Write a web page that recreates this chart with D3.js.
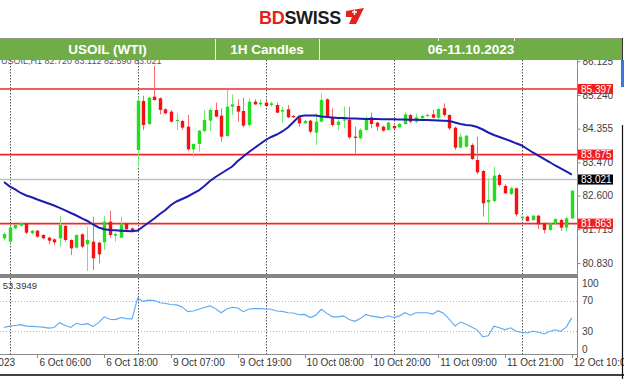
<!DOCTYPE html>
<html><head><meta charset="utf-8">
<script src="https://cdnjs.cloudflare.com/ajax/libs/d3/7.8.5/d3.min.js"></script>
<style>body{margin:0;background:#fff;}svg{display:block;font-family:"Liberation Sans",Arial,sans-serif;}</style>
</head><body><svg id="c" width="624" height="379"></svg>
<script>
// ---- DATA ----
const opens=[81.478,81.390,81.740,81.810,81.871,81.609,81.679,81.565,81.495,81.451,
81.478,81.801,81.434,81.233,81.583,81.320,81.390,81.364,81.373,81.915,
81.548,81.495,81.871,81.740,83.797,85.083,84.479,85.197,85.153,84.864,
84.803,84.558,84.558,84.409,83.814,83.954,84.295,84.567,84.847,84.698,
84.164,84.934,84.952,84.820,84.453,85.065,84.995,85.039,84.978,84.978,
84.803,84.864,84.689,84.654,84.497,84.567,84.252,84.540,85.127,84.654,
84.453,84.567,84.584,84.147,84.103,84.322,84.654,84.514,84.409,84.322,
84.427,84.392,84.479,84.715,84.540,84.628,84.689,84.733,84.645,84.890,
84.715,84.383,83.858,83.884,83.928,83.534,83.245,82.423,82.458,83.140,
82.852,82.642,82.790,82.003,82.047,81.959,82.073,81.872,81.697,81.872,
81.959,81.758,82.003];
const highs=[81.627,81.801,81.854,81.915,81.889,81.696,81.696,81.583,81.521,81.478,
82.064,81.828,81.451,81.583,81.609,81.775,82.046,81.390,82.064,82.204,
81.626,82.046,81.889,81.766,85.197,85.223,85.197,86.002,85.179,84.890,
84.847,84.759,84.584,84.715,83.972,84.322,84.847,84.890,85.039,84.890,
85.372,85.258,85.127,85.170,85.153,85.127,85.127,85.109,85.065,85.039,
84.934,84.978,84.715,84.689,84.584,84.584,84.759,85.284,85.153,84.890,
84.672,84.934,84.934,84.409,84.365,84.689,84.777,84.540,84.435,84.540,
84.453,84.497,84.777,84.742,84.759,84.733,84.759,84.847,84.890,85.022,
84.733,84.409,84.234,84.190,83.971,84.146,83.272,83.053,83.359,83.184,
82.895,82.834,82.808,82.073,82.073,82.090,82.090,81.889,81.898,82.003,
81.985,82.047,82.747];
const lows=[81.417,81.346,81.714,81.784,81.583,81.583,81.495,81.451,81.320,81.303,
81.259,81.390,81.040,81.215,81.215,80.620,80.647,80.822,81.171,81.495,
81.390,81.478,81.670,81.635,83.342,84.322,84.453,85.092,84.733,84.733,
84.523,84.322,84.322,83.779,83.622,83.753,84.260,84.295,84.654,84.016,
84.147,84.715,84.540,84.392,84.409,84.978,84.934,84.934,84.934,84.759,
84.514,84.628,84.637,84.409,84.479,84.234,83.928,84.514,84.628,84.409,
84.322,84.365,84.077,83.709,84.077,84.304,84.365,84.304,84.278,84.304,
84.348,84.383,84.453,84.497,84.497,84.602,84.672,84.628,84.602,84.672,
84.321,83.796,83.840,83.858,83.534,83.158,82.047,81.872,82.423,82.834,
82.642,82.615,82.047,81.985,81.915,81.933,81.723,81.609,81.670,81.845,
81.670,81.653,81.985];
const closes=[81.591,81.766,81.828,81.880,81.626,81.679,81.521,81.478,81.416,81.373,
81.828,81.434,81.215,81.565,81.259,81.434,80.953,81.058,81.915,81.565,
81.591,81.845,81.714,81.670,85.092,84.453,85.170,85.109,84.847,84.759,
84.540,84.584,84.383,83.814,83.954,84.304,84.584,84.847,84.672,84.147,
84.934,84.995,84.803,84.435,85.065,84.995,85.039,84.952,85.022,84.777,
84.847,84.654,84.663,84.497,84.558,84.278,84.540,85.109,84.654,84.453,
84.540,84.602,84.129,84.121,84.322,84.602,84.479,84.409,84.304,84.514,
84.365,84.479,84.733,84.540,84.654,84.689,84.715,84.645,84.873,84.715,
84.365,83.858,84.146,84.173,83.560,83.210,82.397,82.484,83.123,82.878,
82.659,82.790,82.108,82.047,81.933,82.073,81.845,81.697,81.872,81.985,
81.758,82.003,82.729];
const maValues=[82.957,82.841,82.760,82.668,82.602,82.555,82.497,82.445,82.392,82.340,
82.279,82.209,82.143,82.077,81.999,81.933,81.841,81.762,81.715,81.697,
81.689,81.678,81.670,81.663,81.684,81.789,81.894,81.999,82.117,82.222,
82.353,82.445,82.510,82.576,82.655,82.733,82.852,82.983,83.088,83.180,
83.271,83.363,83.508,83.626,83.744,83.849,83.954,84.059,84.138,84.203,
84.282,84.387,84.530,84.680,84.702,84.702,84.702,84.676,84.663,84.649,
84.636,84.636,84.623,84.623,84.618,84.610,84.610,84.610,84.605,84.602,
84.602,84.597,84.597,84.592,84.589,84.584,84.584,84.579,84.571,84.565,
84.558,84.518,84.479,84.453,84.439,84.400,84.334,84.256,84.190,84.138,
84.085,84.033,83.972,83.915,83.823,83.731,83.647,83.565,83.481,83.390,
83.311,83.232,83.153];
const rsiValues=[34.9,36.7,37.6,38.6,36.7,36.3,35.8,35.4,34.0,34.9,
41.2,37.6,34.9,40.4,38.6,39.9,36.3,41.2,48.9,45.7,
45.3,48.0,46.6,46.2,73.6,69.2,70.9,70.5,67.4,66.5,
65.1,64.6,62.0,55.7,56.6,58.8,61.1,63.3,59.7,54.3,
59.3,61.5,60.6,55.7,59.3,59.7,59.7,59.3,58.8,56.6,
56.1,54.3,53.9,51.6,52.1,48.0,51.1,58.8,53.4,48.9,
48.9,50.2,45.3,43.0,46.6,52.1,49.8,48.9,47.5,50.2,
48.0,49.8,54.3,51.1,54.3,54.3,54.3,52.5,57.0,53.4,
45.7,36.7,42.1,39.0,35.4,31.8,22.8,24.1,36.7,34.5,
31.8,34.5,30.0,28.6,27.7,30.0,28.6,26.4,29.5,31.8,
30.0,35.4,47.5];
const levelLines=[85.397,83.675,81.863];
const currentPrice=83.021;
const priceTicks=[86.125,85.240,84.355,83.470,82.600,81.715,80.830];
const rsiTicks=[100,70,30,0];
const rsiLevels=[70,30];
const timeTickIdx=[6,18,30,42,54,66,78,90,102];
const timeTickText=["6 Oct 06:00","6 Oct 18:00","9 Oct 07:00","9 Oct 19:00","10 Oct 08:00","10 Oct 20:00","11 Oct 09:00","11 Oct 21:00","12 Oct 10:00"];
const separatorIdx=[1,24,47,70,93];
const headerCells=["USOIL (WTI)","1H Candles","06-11.10.2023"];
const ohlcText="USOIL,H1  82.720 83.112 82.590 83.021";
const rsiText="RSI(14) 53.3949";

// ---- LAYOUT ----
const svg=d3.select("#c");
const plotR=577.5, mainTop=60, mainBot=274, rsiTop=278, rsiBot=354;
const x=d3.scaleLinear().domain([0,102]).range([4,571.8]);
const y=d3.scaleLinear().domain([80.830,85.240]).range([263,95]);
const yr=d3.scaleLinear().domain([0,100]).range([rsiBot,rsiTop]);

const defs=svg.append("defs");
defs.append("clipPath").attr("id","cm").append("rect").attr("x",0).attr("y",mainTop).attr("width",plotR).attr("height",mainBot-mainTop);
defs.append("clipPath").attr("id","cr").append("rect").attr("x",0).attr("y",rsiTop).attr("width",plotR).attr("height",rsiBot-rsiTop);

// OHLC text (partly hidden under the header band)
svg.append("text").attr("x",1).attr("y",63.8).attr("font-size",9).attr("fill","#555").text(ohlcText);

// main panel
const gm=svg.append("g").attr("clip-path","url(#cm)");
gm.selectAll("line.sep").data(separatorIdx).join("line")
 .attr("x1",d=>Math.round(x(d))+0.5).attr("x2",d=>Math.round(x(d))+0.5)
 .attr("y1",mainTop).attr("y2",mainBot).attr("stroke","#555").attr("stroke-dasharray","1.5,1.5");
gm.append("line").attr("x1",0).attr("x2",plotR).attr("y1",y(currentPrice)).attr("y2",y(currentPrice))
 .attr("stroke","#c4c4c4").attr("stroke-width",1.5);
gm.selectAll("line.lvl").data(levelLines).join("line")
 .attr("x1",0).attr("x2",plotR).attr("y1",d=>y(d)).attr("y2",d=>y(d))
 .attr("stroke","#f02828").attr("stroke-width",1.7);
const idx=d3.range(opens.length);
const up=i=>closes[i]>=opens[i];
gm.selectAll("line.wick").data(idx).join("line")
 .attr("x1",i=>Math.round(x(i))+0.5).attr("x2",i=>Math.round(x(i))+0.5)
 .attr("y1",i=>y(highs[i])).attr("y2",i=>y(lows[i]))
 .attr("stroke",i=>up(i)?"#74e874":"#f56a6a").attr("stroke-width",1);
gm.selectAll("rect.body").data(idx).join("rect")
 .attr("x",i=>Math.round(x(i))-1.2).attr("width",3.4)
 .attr("y",i=>y(Math.max(opens[i],closes[i])))
 .attr("height",i=>Math.max(1.2,Math.abs(y(opens[i])-y(closes[i]))))
 .attr("fill",i=>up(i)?"#22dd22":"#f21414");
gm.append("path").datum(idx).attr("fill","none").attr("stroke","#1c1cb0").attr("stroke-width",2)
 .attr("d",d3.line().x(i=>x(i)).y(i=>y(maValues[i])));

svg.append("rect").attr("x",0).attr("y",mainBot).attr("width",plotR).attr("height",rsiTop-mainBot).attr("fill","#858585");

// RSI panel
const gr=svg.append("g").attr("clip-path","url(#cr)");
gr.selectAll("line.lv").data(rsiLevels).join("line")
 .attr("x1",0).attr("x2",plotR).attr("y1",d=>Math.round(yr(d))+0.5).attr("y2",d=>Math.round(yr(d))+0.5)
 .attr("stroke","#b8b8b8").attr("stroke-dasharray","1,2");
gr.selectAll("line.sep").data(separatorIdx).join("line")
 .attr("x1",d=>Math.round(x(d))+0.5).attr("x2",d=>Math.round(x(d))+0.5)
 .attr("y1",rsiTop).attr("y2",rsiBot).attr("stroke","#555").attr("stroke-dasharray","1.5,1.5");
gr.append("path").datum(idx).attr("fill","none").attr("stroke","#5aa9f5").attr("stroke-width",1.1)
 .attr("d",d3.line().x(i=>x(i)).y(i=>yr(rsiValues[i])));
svg.append("text").attr("x",37).attr("y",289).attr("text-anchor","end").attr("font-size",9.5).attr("fill","#333").text(rsiText);

svg.append("line").attr("x1",0).attr("x2",plotR).attr("y1",rsiBot+0.5).attr("y2",rsiBot+0.5).attr("stroke","#8a8a8a");
svg.append("line").attr("x1",plotR).attr("x2",plotR).attr("y1",mainTop).attr("y2",rsiBot+4).attr("stroke","#8a8a8a");

const pa=svg.append("g").attr("transform",`translate(${plotR},0)`)
 .call(d3.axisRight(y).tickValues(priceTicks).tickFormat(d3.format(".3f")).tickSize(3).tickPadding(2));
pa.select(".domain").remove();
pa.selectAll("line").attr("stroke","#8a8a8a");
pa.selectAll("text").attr("font-size",10).attr("fill","#404040").attr("font-family","Liberation Sans, Arial, sans-serif");

const lab=svg.append("g");
levelLines.forEach(v=>{
  lab.append("rect").attr("x",578).attr("y",y(v)-5).attr("width",35).attr("height",10).attr("fill","#f01e1e");
  lab.append("text").attr("x",581).attr("y",y(v)+3.6).attr("font-size",10).attr("fill","#fff").text(d3.format(".3f")(v));
});
lab.append("rect").attr("x",578).attr("y",y(currentPrice)-5).attr("width",35).attr("height",10).attr("fill","#000");
lab.append("text").attr("x",581).attr("y",y(currentPrice)+3.6).attr("font-size",10).attr("fill","#fff").text(d3.format(".3f")(currentPrice));

svg.selectAll("text.rl").data(rsiTicks).join("text")
 .attr("x",582).attr("y",d=>Math.max(rsiTop+5,Math.min(rsiBot-5,yr(d)))+3.5)
 .attr("font-size",10).attr("fill","#404040").text(d=>d);

const ta=svg.append("g");
ta.selectAll("line").data(timeTickIdx).join("line")
 .attr("x1",d=>Math.round(x(d))+0.5).attr("x2",d=>Math.round(x(d))+0.5)
 .attr("y1",rsiBot).attr("y2",rsiBot+4).attr("stroke","#8a8a8a");
ta.selectAll("text").data(timeTickIdx).join("text")
 .attr("x",d=>x(d)+2).attr("y",366).attr("font-size",10).attr("fill","#333")
 .text((d,k)=>timeTickText[k]);
svg.append("text").attr("x",15).attr("y",366).attr("text-anchor","end").attr("font-size",10).attr("fill","#333").text("6 Oct 2023");
svg.append("rect").attr("x",0).attr("y",374).attr("width",624).attr("height",2).attr("fill","#404040");

svg.append("rect").attr("x",621).attr("y",60).attr("width",3).attr("height",27).attr("fill","#3b78d8");
svg.append("line").attr("x1",622.5).attr("x2",622.5).attr("y1",125).attr("y2",379).attr("stroke","#111").attr("stroke-width",1.2);

// header band
const hb=svg.append("g");
hb.append("rect").attr("x",0).attr("y",38).attr("width",622).attr("height",22).attr("fill","#70ad47");
hb.append("line").attr("x1",0).attr("x2",622).attr("y1",38.5).attr("y2",38.5).attr("stroke","#8a9a80");
const cellEdges=[0,215,319,622];
[215,319].forEach(v=>hb.append("line").attr("x1",v+0.5).attr("x2",v+0.5).attr("y1",39).attr("y2",60).attr("stroke","#eaf3e4").attr("stroke-width",1));
[438,514].forEach(v=>hb.append("line").attr("x1",v+0.5).attr("x2",v+0.5).attr("y1",38).attr("y2",41).attr("stroke","#eaf3e4"));
hb.append("line").attr("x1",622.5).attr("x2",622.5).attr("y1",38).attr("y2",60).attr("stroke","#333");
hb.selectAll("text").data(headerCells).join("text")
 .attr("x",(d,k)=>k===2?471:(cellEdges[k]+cellEdges[k+1])/2)
 .attr("y",54).attr("text-anchor","middle").attr("font-size",13.5).attr("font-weight","bold").attr("fill","#fff").text(d=>d);

// logo
const lg=svg.append("g");
const t=lg.append("text").attr("x",259).attr("y",24).attr("font-size",18).attr("font-weight","bold").attr("letter-spacing","-0.3");
t.append("tspan").attr("fill","#e3231b").text("BD");
t.append("tspan").attr("fill","#1b1b1b").text("SWISS");
lg.append("path").attr("d","M346,11 L364,8 L356,24 L349,24 L352,17 L346,17 Z").attr("fill","#e3231b");
lg.append("path").attr("d","M352,12 L357,12 M354.5,10 L354.5,15").attr("stroke","#fff").attr("stroke-width",1.3);
</script></body></html>
